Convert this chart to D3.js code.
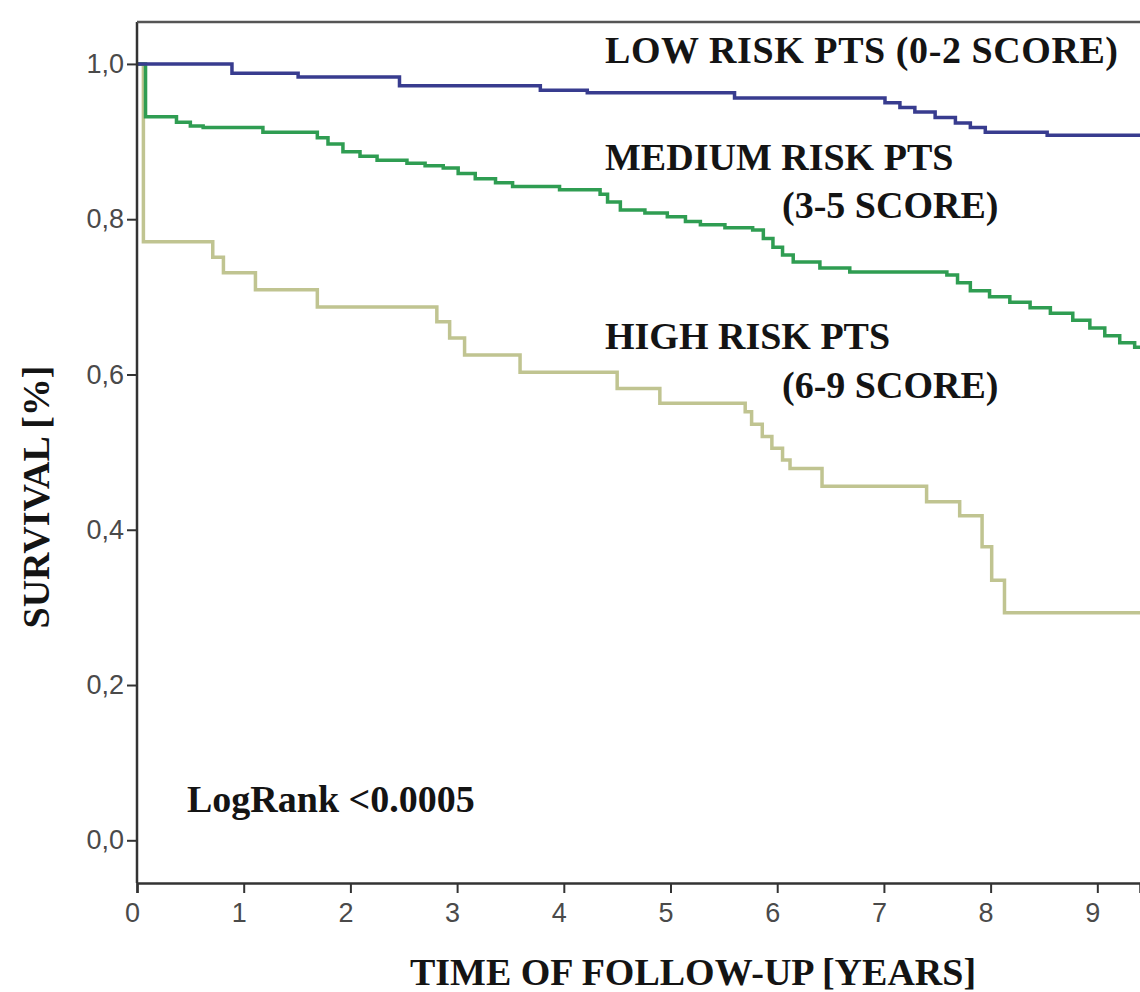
<!DOCTYPE html>
<html>
<head>
<meta charset="utf-8">
<script src="https://cdn.jsdelivr.net/npm/d3@7"></script>
<style>
  body { margin: 0; background: #fff; }
  .tick text { font-family: "Liberation Sans", Arial, sans-serif; font-size: 27px; fill: #4a4a4a; }
  .lbl { font-family: "Liberation Serif", "Times New Roman", serif; font-weight: bold; font-size: 38px; fill: #141414; }
</style>
</head>
<body>
<svg id="chart" width="1140" height="992"></svg>
<script>
// Kaplan-Meier steps (time in years, survival fraction)
const lowTimes = [0, 0.89, 1.51, 2.46, 3.78, 4.22, 5.60, 7.01, 7.15, 7.29, 7.48, 7.67, 7.81, 7.95, 8.53, 9.4]
const lowSurv  = [1.0, 0.988, 0.983, 0.972, 0.966, 0.963, 0.956, 0.950, 0.944, 0.938, 0.931, 0.924, 0.918, 0.912, 0.908, 0.908]

const medTimes = [0, 0.08, 0.37, 0.50, 0.62, 1.18, 1.69, 1.79, 1.93, 2.09, 2.25, 2.53, 2.70, 2.87, 3.01, 3.17, 3.36, 3.52,
                  3.96, 4.34, 4.41, 4.53, 4.76, 4.97, 5.14, 5.28, 5.51, 5.77, 5.87, 5.96, 6.05, 6.15, 6.40, 6.68,
                  7.59, 7.69, 7.81, 7.99, 8.18, 8.37, 8.56, 8.77, 8.93, 9.07, 9.21, 9.35, 9.4]
const medSurv  = [1.0, 0.932, 0.925, 0.920, 0.918, 0.912, 0.905, 0.897, 0.887, 0.881, 0.876, 0.872, 0.869, 0.866, 0.859, 0.852, 0.847, 0.842,
                  0.838, 0.832, 0.822, 0.812, 0.808, 0.803, 0.797, 0.793, 0.789, 0.786, 0.775, 0.764, 0.754, 0.745, 0.737, 0.732,
                  0.728, 0.718, 0.708, 0.700, 0.693, 0.686, 0.679, 0.670, 0.660, 0.650, 0.641, 0.635, 0.635]

const highTimes = [0, 0.06, 0.71, 0.81, 1.11, 1.69, 2.81, 2.93, 3.07, 3.59, 4.50, 4.90, 5.70, 5.76, 5.86, 5.95, 6.05, 6.12,
                   6.42, 7.40, 7.71, 7.92, 8.01, 8.13, 9.4]
const highSurv  = [1.0, 0.771, 0.751, 0.731, 0.709, 0.687, 0.668, 0.647, 0.625, 0.603, 0.582, 0.563, 0.552, 0.536, 0.520, 0.505, 0.490, 0.479,
                   0.456, 0.436, 0.418, 0.378, 0.335, 0.293, 0.293]

const xTicks = [0, 1, 2, 3, 4, 5, 6, 7, 8, 9]
const yTicks = [0, 0.2, 0.4, 0.6, 0.8, 1.0]

const seriesNames = ["low", "medium", "high"]
const seriesColors = ["#383c8f", "#2f9d52", "#c0c491"]

const svg = d3.select("#chart")

let x = d3.scaleLinear().domain([0, 9.4]).range([137, 1140]),
    y = d3.scaleLinear().domain([-0.055, 1.054]).range([883, 22])

svg.append("clipPath").attr("id", "plot-clip")
    .append("rect")
    .attr("x", x(0)).attr("y", y(1.054))
    .attr("width", x(9.4) - x(0)).attr("height", y(-0.055) - y(1.054))

// curves: high first so the others sit on top
const series = [
    { name: "high", t: highTimes, s: highSurv },
    { name: "medium", t: medTimes, s: medSurv },
    { name: "low", t: lowTimes, s: lowSurv }
]

const line = d3.line()
    .x(d => x(d[0]))
    .y(d => y(d[1]))
    .curve(d3.curveStepAfter)

svg.append("g")
    .attr("clip-path", "url(#plot-clip)")
    .selectAll("path")
    .data(series)
    .enter()
    .append("path")
    .attr("fill", "none")
    .attr("stroke", d => seriesColors[seriesNames.indexOf(d.name)])
    .attr("stroke-width", 3.5)
    .attr("d", d => line(d.t.map((t, i) => [t, d.s[i]])))

// axes
let yAxis = svg.append("g")
    .attr("transform", `translate(${x(0)},0)`)
    .call(d3.axisLeft(y).tickValues(yTicks).tickSize(10).tickPadding(3)
        .tickFormat(d => d3.format(".1f")(d).replace(".", ",")))
yAxis.select(".domain").attr("d", `M0,${y(-0.055)}V${y(1.054)}`)

let xAxis = svg.append("g")
    .attr("transform", `translate(0,${y(-0.055)})`)
    .call(d3.axisBottom(x).tickValues(xTicks).tickSize(10).tickPadding(10).tickFormat(d3.format("d")))
xAxis.selectAll(".tick text").attr("dx", "-5")

svg.selectAll(".domain").attr("stroke", "#333").attr("stroke-width", 2.5)
svg.selectAll(".tick line").attr("stroke", "#333").attr("stroke-width", 2)

// top frame line
svg.append("line")
    .attr("x1", x(0)).attr("x2", x(9.4))
    .attr("y1", y(1.054)).attr("y2", y(1.054))
    .attr("stroke", "#555").attr("stroke-width", 2.5)

// labels
const labels = [
    { text: "LOW RISK PTS (0-2 SCORE)", x: 605, y: 63 },
    { text: "MEDIUM RISK PTS", x: 605, y: 170 },
    { text: "(3-5 SCORE)", x: 782, y: 218 },
    { text: "HIGH RISK PTS", x: 605, y: 349 },
    { text: "(6-9 SCORE)", x: 782, y: 398 },
    { text: "LogRank <0.0005", x: 187, y: 812 }
]

svg.append("g")
    .selectAll("text")
    .data(labels)
    .enter()
    .append("text")
    .attr("class", "lbl")
    .attr("x", d => d.x)
    .attr("y", d => d.y)
    .attr("textLength", d => d.text.length > 20 ? 513 : null)
    .text(d => d.text)

svg.append("text")
    .attr("class", "lbl")
    .attr("text-anchor", "middle")
    .attr("x", 693)
    .attr("y", 985)
    .text("TIME OF FOLLOW-UP [YEARS]")

svg.append("text")
    .attr("class", "lbl")
    .attr("text-anchor", "middle")
    .attr("transform", "translate(49,497) rotate(-90)")
    .text("SURVIVAL [%]")
</script>
</body>
</html>
